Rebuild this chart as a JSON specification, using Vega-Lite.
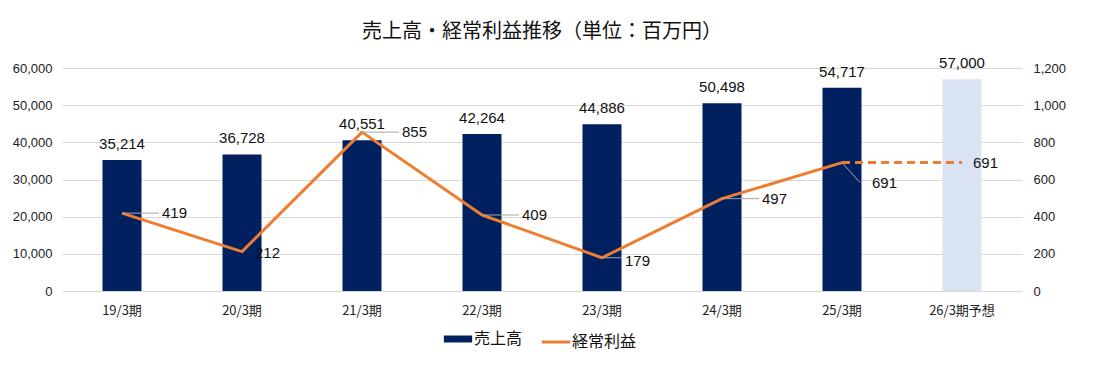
{
  "$schema": "https://vega.github.io/schema/vega-lite/v6.json",
  "width": 960,
  "height": 223,
  "autosize": {"type": "none"},
  "padding": {"left": 62, "top": 68, "right": 71, "bottom": 97},
  "background": "white",
  "config": {"view": {"stroke": null}},
  "title": {
    "text": "売上高・経常利益推移（単位：百万円）",
    "font": "Noto Sans CJK JP",
    "fontSize": 20,
    "fontWeight": "normal",
    "color": "#111111",
    "anchor": "middle",
    "offset": 14
  },
  "data": {
    "values": [
      {"年度": "19/3期", "売上高": 35214, "経常利益": 419, "区分": "実績"},
      {"年度": "20/3期", "売上高": 36728, "経常利益": 212, "区分": "実績"},
      {"年度": "21/3期", "売上高": 40551, "経常利益": 855, "区分": "実績"},
      {"年度": "22/3期", "売上高": 42264, "経常利益": 409, "区分": "実績"},
      {"年度": "23/3期", "売上高": 44886, "経常利益": 179, "区分": "実績"},
      {"年度": "24/3期", "売上高": 50498, "経常利益": 497, "区分": "実績"},
      {"年度": "25/3期", "売上高": 54717, "経常利益": 691, "区分": "実績"},
      {"年度": "26/3期予想", "売上高": 57000, "経常利益": 691, "区分": "予想"}
    ]
  },
  "encoding": {
    "x": {
      "field": "年度",
      "type": "nominal",
      "sort": null,
      "scale": {"paddingInner": 0, "paddingOuter": 0},
      "axis": {
        "title": null,
        "labelAngle": 0,
        "domain": false,
        "ticks": false,
        "labelPadding": 13,
        "labelFont": "Noto Sans CJK JP",
        "labelFontSize": 13,
        "labelColor": "#222222"
      }
    }
  },
  "layer": [
    {
      "encoding": {
        "y": {
          "field": "売上高",
          "type": "quantitative",
          "scale": {"domain": [0, 60000], "nice": false},
          "axis": {
            "orient": "left",
            "title": null,
            "values": [0, 10000, 20000, 30000, 40000, 50000, 60000],
            "format": ",d",
            "domain": false,
            "ticks": false,
            "labelPadding": 10,
            "labelFont": "Liberation Sans",
            "labelFontSize": 13,
            "labelColor": "#222222",
            "gridColor": "#d9d9d9",
            "gridWidth": 1
          }
        }
      },
      "layer": [
        {
          "transform": [{"filter": "datum['区分'] == '実績'"}],
          "mark": {"type": "bar", "width": {"band": 0.325}},
          "encoding": {
            "color": {
              "datum": "売上高",
              "type": "nominal",
              "scale": {"domain": ["売上高", "経常利益"], "range": ["#002060", "#ed7d31"]},
              "legend": {
                "title": null,
                "orient": "none",
                "direction": "horizontal",
                "legendX": 388,
                "legendY": 263,
                "symbolType": "stroke",
                "symbolSize": 800,
                "symbolStrokeWidth": 3,
                "labelFont": "Noto Sans CJK JP",
                "labelFontSize": 16,
                "labelColor": "#111111",
                "labelOffset": 8,
                "columnPadding": 12,
                "encode": {
                  "symbols": {
                    "update": {
                      "stroke": {"signal": "datum.value == '売上高' ? '#002060' : '#ed7d31'"},
                      "strokeWidth": {"signal": "datum.value == '売上高' ? 7 : 3"},
                      "fill": {"value": "transparent"},
                      "opacity": {"value": 1}
                    }
                  }
                }
              }
            }
          }
        },
        {
          "transform": [{"filter": "datum['区分'] == '予想'"}],
          "mark": {"type": "bar", "width": {"band": 0.325}, "color": "#dae3f3"}
        },
        {
          "mark": {"type": "text", "dy": -11, "baseline": "alphabetic", "font": "Liberation Sans", "fontSize": 15, "color": "#111111"},
          "encoding": {"text": {"field": "売上高", "type": "quantitative", "format": ",d"}}
        }
      ]
    },
    {
      "encoding": {
        "y": {
          "field": "経常利益",
          "type": "quantitative",
          "scale": {"domain": [0, 1200], "nice": false},
          "axis": {
            "orient": "right",
            "title": null,
            "values": [0, 200, 400, 600, 800, 1000, 1200],
            "format": ",d",
            "domain": false,
            "ticks": false,
            "grid": false,
            "labelPadding": 11,
            "labelFont": "Liberation Sans",
            "labelFontSize": 13,
            "labelColor": "#222222"
          }
        }
      },
      "layer": [
        {
          "transform": [{"filter": "datum['区分'] == '実績'"}],
          "mark": {"type": "line", "strokeWidth": 3, "strokeJoin": "round"},
          "encoding": {"color": {"datum": "経常利益", "type": "nominal"}}
        },
        {
          "transform": [{"filter": "datum['年度'] == '25/3期' || datum['区分'] == '予想'"}],
          "mark": {"type": "line", "strokeWidth": 3, "strokeDash": [8, 5], "color": "#ed7d31"}
        },
        {
          "transform": [{"filter": {"field": "年度", "oneOf": ["19/3期", "21/3期", "22/3期", "24/3期"]}}],
          "mark": {"type": "rule", "color": "#a6a6a6", "strokeWidth": 1, "x2Offset": 37},
          "encoding": {"x2": {"field": "年度"}, "y2": {"field": "経常利益"}}
        },
        {
          "transform": [{"filter": {"field": "年度", "oneOf": ["23/3期"]}}],
          "mark": {"type": "rule", "color": "#a6a6a6", "strokeWidth": 1, "x2Offset": 20},
          "encoding": {"x2": {"field": "年度"}, "y2": {"field": "経常利益"}}
        },
        {
          "transform": [{"filter": {"field": "年度", "oneOf": ["25/3期"]}}],
          "mark": {"type": "rule", "color": "#a6a6a6", "strokeWidth": 1, "x2Offset": 18, "y2Offset": 20},
          "encoding": {"x2": {"field": "年度"}, "y2": {"field": "経常利益"}}
        },
        {
          "transform": [{"filter": {"field": "年度", "oneOf": ["19/3期", "21/3期", "22/3期", "24/3期"]}}],
          "mark": {"type": "text", "align": "left", "baseline": "middle", "dx": 40, "font": "Liberation Sans", "fontSize": 15, "color": "#111111"},
          "encoding": {"text": {"field": "経常利益", "type": "quantitative", "format": ",d"}}
        },
        {
          "transform": [{"filter": {"field": "年度", "oneOf": ["20/3期"]}}],
          "mark": {"type": "text", "align": "left", "baseline": "middle", "dx": 13, "dy": 1, "font": "Liberation Sans", "fontSize": 15, "color": "#111111"},
          "encoding": {"text": {"field": "経常利益", "type": "quantitative", "format": ",d"}}
        },
        {
          "transform": [{"filter": {"field": "年度", "oneOf": ["23/3期"]}}],
          "mark": {"type": "text", "align": "left", "baseline": "middle", "dx": 23, "dy": 3, "font": "Liberation Sans", "fontSize": 15, "color": "#111111"},
          "encoding": {"text": {"field": "経常利益", "type": "quantitative", "format": ",d"}}
        },
        {
          "transform": [{"filter": {"field": "年度", "oneOf": ["25/3期"]}}],
          "mark": {"type": "text", "align": "left", "baseline": "middle", "dx": 30, "dy": 20, "font": "Liberation Sans", "fontSize": 15, "color": "#111111"},
          "encoding": {"text": {"field": "経常利益", "type": "quantitative", "format": ",d"}}
        },
        {
          "transform": [{"filter": {"field": "年度", "oneOf": ["26/3期予想"]}}],
          "mark": {"type": "text", "align": "left", "baseline": "middle", "dx": 11, "font": "Liberation Sans", "fontSize": 15, "color": "#111111"},
          "encoding": {"text": {"field": "経常利益", "type": "quantitative", "format": ",d"}}
        }
      ]
    }
  ],
  "resolve": {"scale": {"y": "independent"}}
}
